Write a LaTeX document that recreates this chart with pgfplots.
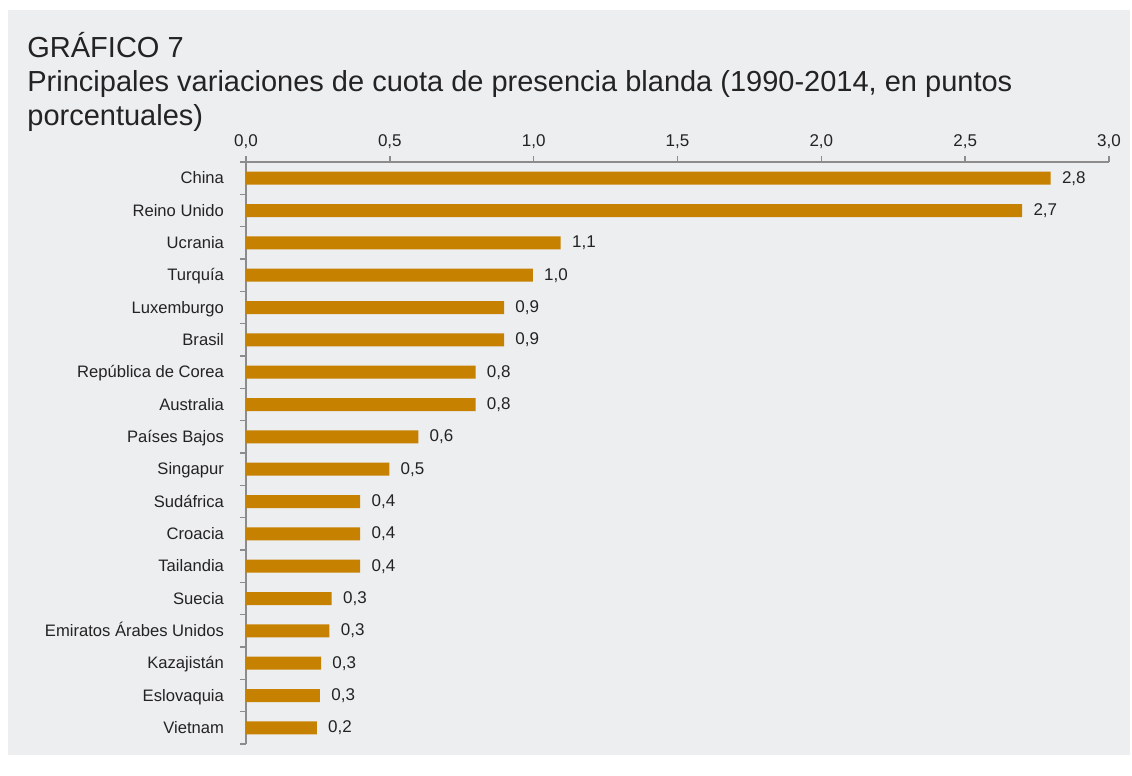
\documentclass[border=0pt]{standalone}
\usepackage{pgfplots}
\pgfplotsset{compat=1.18}
\usepackage{fontspec}
\setmainfont{Liberation Sans}
\definecolor{barc}{RGB}{199,129,0}
\definecolor{bgc}{RGB}{237,238,240}
\definecolor{axc}{RGB}{140,140,140}
\definecolor{txt}{RGB}{35,35,35}

\pgfplotstableread{
idx val
0 2.797
1 2.698
2 1.094
3 0.997
4 0.897
5 0.897
6 0.798
7 0.798
8 0.599
9 0.498
10 0.397
11 0.397
12 0.397
13 0.298
14 0.290
15 0.261
16 0.257
17 0.246
}\cuota

\begin{document}
\begin{tikzpicture}
\begin{scope}[x=0.5pt,y=-0.5pt]
\useasboundingbox (0,0) rectangle (1132,758);
\fill[white] (0,0) rectangle (1132,758);
\fill[bgc] (8,10) rectangle (1130,755);
\begin{scope}[every node/.style={anchor=base west,inner sep=0pt,text=txt,font=\fontsize{14.5}{17}\selectfont}]
\node at (27,58) {GRÁFICO 7};
\node at (27,92) {Principales variaciones de cuota de presencia blanda (1990-2014, en puntos};
\node at (27,126) {porcentuales)};
\end{scope}
\end{scope}
\begin{axis}[at={(123pt,-81pt)},anchor=north west,
scale only axis,width=431.5pt,height=291pt,
xbar,bar width=6.5pt,
xmin=0,xmax=3,ymin=-0.5,ymax=17.5,y dir=reverse,
axis x line*=top,axis y line*=left,
axis line style={axc,line width=0.8pt},
tick style={axc,line width=0.8pt},
tick align=outside,major tick length=3pt,
xtick={0,0.5,1,1.5,2,2.5,3},
ytick={-0.5,0.5,1.5,2.5,3.5,4.5,5.5,6.5,7.5,8.5,9.5,10.5,11.5,12.5,13.5,14.5,15.5,16.5,17.5},
yticklabels={China,Reino Unido,Ucrania,Turquía,Luxemburgo,Brasil,República de Corea,Australia,Países Bajos,Singapur,Sudáfrica,Croacia,Tailandia,Suecia,Emiratos Árabes Unidos,Kazajistán,Eslovaquia,Vietnam,{}},
yticklabel style={font=\fontsize{8.3}{10}\selectfont,text=txt,yshift=-8.7pt,xshift=-4.5pt,
  text height=6.2pt,text depth=1.7pt},
xticklabel style={font=\fontsize{8.5}{10}\selectfont,text=txt,
  /pgf/number format/.cd,fixed,fixed zerofill,precision=1,use comma,assume math mode=true},
nodes near coords={\pgfmathprintnumber[fixed,fixed zerofill,precision=1,use comma,assume math mode=true]{\pgfplotspointmeta}},
point meta=x,
every node near coord/.append style={font=\fontsize{8.5}{10}\selectfont,text=txt,anchor=west,inner sep=0pt,xshift=5.5pt},
]
\addplot[fill=barc,draw=none] table[x=val,y=idx] {\cuota};
\end{axis}
\end{tikzpicture}
\end{document}
